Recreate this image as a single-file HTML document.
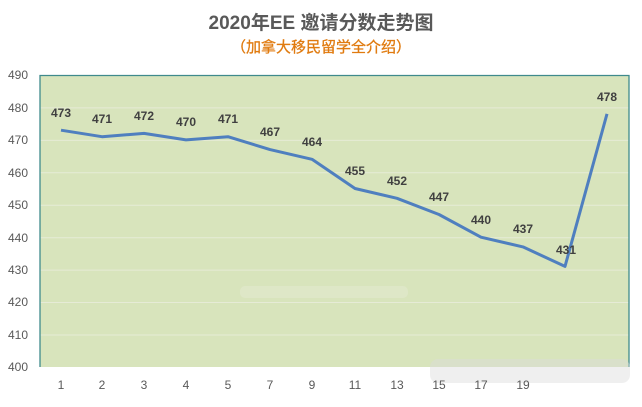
<!DOCTYPE html>
<html><head><meta charset="utf-8"><style>
html,body{margin:0;padding:0;background:#fff;}
svg{display:block;}
text{font-family:"Liberation Sans","Noto Sans CJK SC",sans-serif;}
</style></head><body>
<svg width="642" height="407" viewBox="0 0 642 407" xmlns="http://www.w3.org/2000/svg">
<text x="321" y="29" text-anchor="middle" font-size="19" font-weight="bold" fill="#595959">2020年EE 邀请分数走势图</text>
<text x="321" y="52" text-anchor="middle" font-size="15" fill="#e07b10" stroke="#e07b10" stroke-width="0.3">（加拿大移民留学全介绍）</text>
<rect x="40" y="75.5" width="589" height="291.5" fill="#d8e4bc"/>
<g stroke="#e6ebd6" stroke-width="1">
<line x1="40" x2="629" y1="107.9" y2="107.9"/>
<line x1="40" x2="629" y1="140.4" y2="140.4"/>
<line x1="40" x2="629" y1="172.8" y2="172.8"/>
<line x1="40" x2="629" y1="205.2" y2="205.2"/>
<line x1="40" x2="629" y1="237.7" y2="237.7"/>
<line x1="40" x2="629" y1="270.1" y2="270.1"/>
<line x1="40" x2="629" y1="302.5" y2="302.5"/>
<line x1="40" x2="629" y1="335" y2="335"/>
</g>
<polyline points="40,367 40,75.5 629,75.5 629,367" fill="none" stroke="#3f8a8c" stroke-width="1.3"/>
<rect x="240" y="286" width="168" height="12" rx="5" fill="#e2e9cf" opacity="0.6"/>
<rect x="430" y="359" width="200" height="24" rx="8" fill="#dcdcdc" opacity="0.45"/>
<g font-size="12" fill="#595959" text-anchor="end">
<text x="28" y="79">490</text><text x="28" y="112">480</text><text x="28" y="144">470</text>
<text x="28" y="177">460</text><text x="28" y="209">450</text><text x="28" y="242">440</text>
<text x="28" y="274">430</text><text x="28" y="306">420</text><text x="28" y="339">410</text>
<text x="28" y="371">400</text>
</g>
<g font-size="12" fill="#595959" text-anchor="middle">
<text x="61" y="389">1</text><text x="102" y="389">2</text><text x="144" y="389">3</text>
<text x="186" y="389">4</text><text x="228" y="389">5</text><text x="270" y="389">7</text>
<text x="312" y="389">9</text><text x="355" y="389">11</text><text x="397" y="389">13</text>
<text x="439" y="389">15</text><text x="481" y="389">17</text><text x="523" y="389">19</text>
</g>
<polyline fill="none" stroke="#4f7fbf" stroke-width="3" stroke-linejoin="round" points="61,130.2 102,136.7 144,133.4 186,139.9 228,136.7 270,149.6 312,159.3 355,188.5 397,198.3 439,214.5 481,237.2 523,246.9 565,266.4 607,113.9"/>
<g font-size="12" font-weight="bold" fill="#404040" text-anchor="middle">
<text x="61" y="117">473</text><text x="102" y="123">471</text><text x="144" y="120">472</text>
<text x="186" y="126">470</text><text x="228" y="123">471</text><text x="270" y="136">467</text>
<text x="312" y="146">464</text><text x="355" y="175">455</text><text x="397" y="185">452</text>
<text x="439" y="201">447</text><text x="481" y="224">440</text><text x="523" y="233">437</text>
<text x="566" y="254">431</text><text x="607" y="101">478</text>
</g>
</svg>
</body></html>
